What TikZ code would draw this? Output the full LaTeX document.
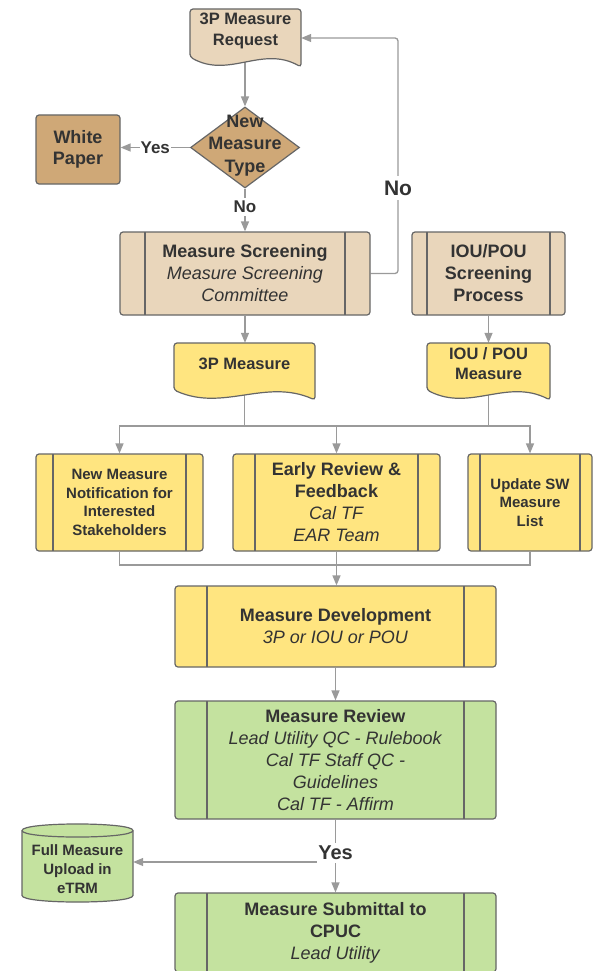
\documentclass[tikz,border=0pt]{standalone}
\usepackage{fontspec}
\setmainfont{Liberation Sans}
\usetikzlibrary{shapes.geometric,arrows.meta}
\definecolor{bordc}{HTML}{666666}
\definecolor{linec}{HTML}{9A9A9A}
\definecolor{txtc}{HTML}{333333}
\definecolor{tanl}{HTML}{E9D6BB}
\definecolor{tand}{HTML}{CFA877}
\definecolor{yel}{HTML}{FFE580}
\definecolor{grn}{HTML}{C4E29F}
\pgfdeclarelayer{bg}
\pgfsetlayers{bg,main}
\newcommand\fsz[2]{\fontsize{#1}{#2}\selectfont}
\tikzset{
 procbox/.style={draw=bordc, line width=1.2pt, rounded corners=3pt, inner sep=0pt, align=center, text=txtc,
  path picture={\draw[bordc, line width=1.2pt, sharp corners] ([xshift=#1]path picture bounding box.north west) -- ([xshift=#1]path picture bounding box.south west) ([xshift=-#1]path picture bounding box.north east) -- ([xshift=-#1]path picture bounding box.south east);}},
 shapeline/.style={draw=bordc, line width=1.2pt},
 txtnode/.style={inner sep=0pt, align=center, text=txtc},
 conn/.style={draw=linec, line width=1.3pt},
 arr/.style={conn, -{Triangle[length=10pt,width=8pt]}},
 lbl/.style={fill=white, inner xsep=1pt, inner ysep=3pt, text=txtc, font=\bfseries\fsz{17}{20}},
}
\begin{document}
\begin{tikzpicture}[x=1pt,y=-1pt]
\useasboundingbox (0,0) rectangle (594,971);
\clip (0,0) rectangle (594,971);

% 3P Measure Request (document)
\filldraw[shapeline, fill=tanl, rounded corners=3pt] (190,57) -- (190,9) -- (301,9) -- (301,67) .. controls (262.15,45) and (228.85,79) .. (190,57) -- cycle;
\node[txtnode, minimum width=111pt, minimum height=43pt, font=\bfseries\fsz{16.5}{21}] (req) at (245.5,30.5) {3P Measure\\Request};

% decision
\node[diamond, shapeline, fill=tand, minimum width=109pt, minimum height=81pt, inner sep=0pt] (dia) at (245,147.5) {};
\node[txtnode, font=\bfseries\fsz{18}{22.5}] (diat) at (245,145.5) {New\\Measure\\Type};

% White paper
\node[shapeline, fill=tand, rounded corners=3pt, minimum width=84pt, minimum height=69pt, txtnode, font=\bfseries\fsz{18}{21}] (wp) at (78,149.5) {White\\Paper};

% screening
\node[procbox=25pt, fill=tanl, minimum width=250pt, minimum height=83pt, font=\fsz{18}{22}] (ms) at (245,273.5) {\textbf{Measure Screening}\\\textit{Measure Screening}\\\textit{Committee}};
\node[procbox=15pt, fill=tanl, minimum width=153pt, minimum height=83pt, font=\bfseries\fsz{18}{22}] (iou) at (488.5,273.5) {IOU/POU\\Screening\\Process};

% documents
\filldraw[shapeline, fill=yel, rounded corners=3pt] (174,390) -- (174,343) -- (315,343) -- (315,400) .. controls (265.65,378) and (223.35,412) .. (174,390) -- cycle;
\node[txtnode, minimum width=141pt, minimum height=42pt, font=\bfseries\fsz{16.5}{20}] (pm3) at (244.5,364) {3P Measure};
\filldraw[shapeline, fill=yel, rounded corners=3pt] (427,390) -- (427,343) -- (550,343) -- (550,400) .. controls (506.95,378) and (470.05,412) .. (427,390) -- cycle;
\node[txtnode, minimum width=123pt, minimum height=42pt, font=\bfseries\fsz{16.5}{20}] (ioum) at (488.5,364) {IOU / POU\\Measure};

% row of three
\node[procbox=17pt, fill=yel, minimum width=167pt, minimum height=97pt, font=\bfseries\fsz{15}{18.5}] (nmn) at (119.5,502.5) {New Measure\\Notification for\\Interested\\Stakeholders};
\node[procbox=22pt, fill=yel, minimum width=207pt, minimum height=97pt, font=\fsz{18}{22}] (er) at (336.5,502.5) {\textbf{Early Review \&}\\\textbf{Feedback}\\\textit{Cal TF}\\\textit{EAR Team}};
\node[procbox=12pt, fill=yel, minimum width=124pt, minimum height=97pt, font=\bfseries\fsz{15}{18.5}] (us) at (530,502.5) {Update SW\\Measure\\List};

% development, review, submittal
\node[procbox=32pt, fill=yel, minimum width=321pt, minimum height=81pt, font=\fsz{18}{22}] (md) at (335.5,626.5) {\textbf{Measure Development}\\\textit{3P or IOU or POU}};
\node[procbox=32pt, fill=grn, minimum width=321pt, minimum height=118pt, font=\fsz{18}{22}] (mr) at (335.5,760) {\textbf{Measure Review}\\\textit{Lead Utility QC - Rulebook}\\\textit{Cal TF Staff QC -}\\\textit{Guidelines}\\\textit{Cal TF - Affirm}};
\node[procbox=32pt, fill=grn, minimum width=321pt, minimum height=79pt, font=\fsz{18}{22}] (sub) at (335.5,932.5) {\textbf{Measure Submittal to}\\\textbf{CPUC}\\\textit{Lead Utility}};

% cylinder
\filldraw[shapeline, fill=grn] (22,830.5) -- (22,895.5) .. controls (22,904.2) and (133,904.2) .. (133,895.5) -- (133,830.5) .. controls (133,821.8) and (22,821.8) .. cycle;
\draw[shapeline] (22,830.5) .. controls (22,839.2) and (133,839.2) .. (133,830.5);
\node[txtnode, minimum width=111pt, minimum height=60pt, font=\bfseries\fsz{15}{19}] (cyl) at (77.5,869) {Full Measure\\Upload in\\eTRM};

\begin{pgfonlayer}{bg}
\fill[white] (0,0) rectangle (594,971);
\draw[arr] (req.south -| dia.north) -- (dia.north);
\draw[arr] (dia.west) -- node[lbl] (lyes1) {Yes} (dia.west -| wp.east);
\draw[arr] (dia.south) -- node[lbl, pos=0.43] (lno1) {No} (ms.north);
\coordinate (fbk) at (398,38);
\draw[arr, rounded corners=3pt] (ms.east) -| (fbk) -- (fbk -| req.east);
\node[lbl, inner ysep=5pt, font=\bfseries\fsz{21}{24}] (lno2) at (398,188) {No};
\draw[arr] (ms.south) -- (ms.south |- pm3.north);
\draw[arr] (iou.south) -- (ioum.north);
\coordinate (busL) at (119.5,426);
\coordinate (busR) at (530,426);
\draw[arr] (pm3.south) |- (busL) -- (nmn.north);
\draw[arr] (ioum.south) |- (busR) -- (us.north);
\draw[conn] (busL) -- (busR);
\draw[arr] (er.north |- busL) -- (er.north);
\coordinate (mrgL) at (119.5,565);
\coordinate (mrgR) at (530,565);
\draw[conn] (nmn.south) -- (mrgL) -- (mrgR) -- (us.south);
\draw[arr] (er.south) -- (er.south |- md.north);
\draw[arr] (md.south) -- (mr.north);
\coordinate (yesc) at (335.5,862);
\draw[conn] (mr.south) -- (yesc);
\draw[arr] (yesc) -- (sub.north);
\draw[arr] (yesc) -- (yesc -| cyl.east);
\node[lbl, font=\bfseries\fsz{20}{24}] (lyes2) at (335.5,853) {Yes};
\end{pgfonlayer}
\end{tikzpicture}
\end{document}
